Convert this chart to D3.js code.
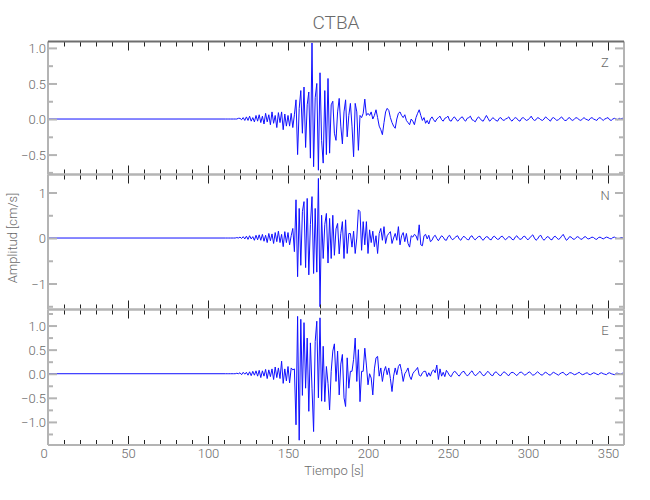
<!DOCTYPE html>
<html>
<head>
<meta charset="utf-8">
<script src="https://cdn.jsdelivr.net/npm/d3@7"></script>
<style>
  html, body { margin: 0; padding: 0; background: #fff; }
  text { font-family: Roboto, 'Liberation Sans', sans-serif; font-weight: 300; }
</style>
</head>
<body>
<svg id="chart" width="650" height="500"></svg>
<script>
// ---------------- DATA ----------------
const title = "CTBA";
const channels = ["Z", "N", "E"];
const xLabel = "Tiempo  [s]";
const yLabel = "Amplitud  [cm/s]";
const xTickLabels = [0, 50, 100, 150, 200, 250, 300, 350];
const xMinorTicks = [10,20,30,40,60,70,80,90,110,120,130,140,160,170,180,190,210,220,230,240,260,270,280,290,310,320,330,340];
const yMajorTicks = [[-0.5, 0, 0.5, 1], [-1, 0, 1], [-1, -0.5, 0, 0.5, 1]];
const yMinorTicks = [[-0.75, -0.25, 0.25, 0.75], [-1.5, -0.5, 0.5], [-1.25, -0.75, -0.25, 0.25, 0.75, 1.25]];
const yDomains = [[-0.78, 1.09], [-1.571, 1.396], [-1.479, 1.333]];

// quiet pre-event record (time 0 .. 110 s, amplitude 0)
const preEventTimes = [0, 110];
const preEventValues = [0, 0];
// sampled record: starts at 110 s, one sample per second, up to 360 s
const sampleStart = 110;
const sampleStep = 1;

const traceZ = [
  0,0,0,0,0,0,0,0,0,0.01,
  0.01,-0.01,0.02,-0.02,0.03,-0.02,0.04,-0.03,0.02,-0.04,
  0.05,-0.03,0.06,-0.05,0.04,-0.07,0.08,-0.04,0.06,-0.08,
  0.1,-0.06,0.05,-0.12,0.09,-0.05,0.1,-0.15,0.07,-0.1,
  0.05,-0.1,0.08,-0.12,0.06,0.27,-0.5,0.15,0.4,-0.2,
  0.45,-0.4,0.2,0.38,-0.55,1.07,-0.67,0.3,0.5,-0.72,
  0.65,-0.3,-0.62,0.4,-0.5,0.57,-0.48,0.2,0.25,-0.2,
  -0.3,0.1,0.29,-0.1,-0.35,0.1,0.27,-0.25,0.05,0.22,
  -0.1,-0.53,0.22,0.1,-0.44,0.05,0.02,0.08,0.28,0.05,
  0.08,0.05,0.1,0.0,0.05,0.13,0.02,-0.1,-0.15,-0.22,
  -0.05,0.1,0.15,0.12,0.02,-0.05,-0.1,-0.13,0.0,0.08,
  0.1,0.05,0.02,0.06,-0.02,-0.05,-0.08,0.0,-0.03,-0.08,
  0.02,0.08,0.13,0.05,-0.02,0.02,-0.06,-0.02,-0.07,0.0,
  0.03,-0.01,-0.04,0.0,0.02,0.04,-0.01,-0.03,0.01,0.02,
  0.04,-0.02,-0.03,0.01,0.03,0.0,-0.03,-0.01,0.02,0.03,
  -0.01,-0.03,0.01,0.02,0.04,-0.01,-0.02,-0.04,0.0,0.03,
  0.01,-0.02,-0.03,0.01,0.05,0.01,-0.03,-0.01,0.02,0.0,
  -0.02,-0.03,0.01,0.02,-0.01,-0.02,0.0,0.01,0.03,-0.01,
  -0.03,0.0,0.02,0.01,-0.02,-0.03,0.01,0.02,0.0,-0.02,
  -0.01,0.01,0.04,0.0,-0.02,-0.01,0.02,0.01,-0.01,-0.02,
  0.0,0.03,0.01,-0.01,-0.03,0.01,0.02,0.0,-0.02,-0.01,
  0.01,0.03,0.0,-0.02,-0.02,0.01,0.02,-0.01,-0.02,0.0,
  0.02,0.01,-0.01,-0.02,0.0,0.02,0.0,-0.01,-0.02,0.01,
  0.02,0.0,-0.01,-0.02,0.01,0.02,0.0,-0.02,0.0,0.01,
  0.02,-0.01,-0.02,0.0,0.01,0.0,-0.01,0.01,0.0,0.01,
  0.0
];

const traceN = [
  0,0,0,0,0,0,0,0,0.01,0,
  0.02,-0.01,0.03,-0.02,0.04,-0.03,0.05,-0.02,0.03,-0.05,
  0.06,-0.04,0.07,-0.05,0.08,-0.07,0.06,-0.1,0.1,-0.06,
  0.09,-0.12,0.12,-0.08,0.15,-0.1,0.08,-0.19,0.14,-0.1,
  0.12,-0.15,0.05,0.21,-0.3,0.84,-0.85,0.65,-0.6,0.58,
  0.8,-0.65,0.87,-0.81,0.3,0.91,-0.78,0.65,-0.75,1.31,
  -1.51,0.5,-0.45,0.3,0.54,-0.55,0.43,-0.45,0.5,-0.38,
  0.2,0.32,-0.35,0.1,0.36,-0.45,0.4,-0.34,0.1,0.1,
  -0.2,0.15,-0.34,0.0,0.62,0.58,-0.27,0.36,-0.15,0.36,
  -0.34,0.18,-0.1,0.15,-0.19,0.05,-0.34,0.1,0.21,-0.05,
  0.25,-0.12,0.05,0.1,0.14,-0.12,0.0,0.1,-0.05,0.25,
  -0.15,0.05,0.12,-0.08,0.1,-0.12,-0.2,0.05,0.02,0.08,
  0.05,-0.05,0.29,-0.15,-0.17,0.05,0.08,-0.02,0.06,-0.08,
  -0.05,0.03,0.06,-0.01,-0.06,0.0,0.05,0.02,-0.04,-0.05,
  0.03,0.06,-0.01,-0.04,0.0,0.03,0.05,-0.02,-0.05,0.01,
  0.04,0.0,-0.03,-0.04,0.03,0.05,-0.01,-0.04,0.0,0.03,
  0.04,-0.02,-0.05,0.0,0.03,0.02,-0.03,-0.04,0.02,0.04,
  0.0,-0.03,-0.02,0.03,0.04,-0.01,-0.04,0.0,0.03,0.02,
  -0.03,-0.04,0.02,0.05,0.0,-0.03,-0.02,0.03,0.04,-0.01,
  -0.04,0.0,0.04,0.07,0.0,-0.05,-0.02,0.04,0.06,-0.01,
  -0.05,-0.01,0.03,0.02,-0.03,-0.04,0.02,0.04,0.0,-0.03,
  -0.01,0.04,0.08,0.01,-0.05,-0.02,0.03,0.02,-0.02,-0.03,
  0.01,0.03,0.01,-0.03,-0.02,0.02,0.03,-0.01,-0.02,0.0,
  0.02,0.01,-0.02,-0.03,0.01,0.02,0.0,-0.02,0.0,0.02,
  0.01,-0.01,-0.02,0.01,0.02,0.0,-0.01,-0.01,0.01,0.01,
  0.0
];

const traceE = [
  0,0,0,0,0,0,0,0,0.01,0,
  0.02,-0.02,0.03,-0.01,0.03,-0.03,0.04,-0.04,0.05,-0.03,
  0.06,-0.05,0.07,-0.08,0.06,-0.05,0.09,-0.1,0.08,-0.06,
  0.1,-0.12,0.14,-0.08,0.12,-0.1,0.26,-0.2,0.1,-0.15,
  0.15,-0.19,0.12,0.08,0.1,-1.06,1.19,-1.38,1.13,-0.45,
  1.06,-0.3,0.74,-0.78,0.64,-0.3,-1.2,0.67,1.09,-0.5,
  1.16,-0.57,0.57,-0.58,0.15,-0.2,-0.75,0.05,0.47,0.62,
  -0.16,0.47,-0.44,0.2,0.4,-0.5,-0.68,0.33,-0.3,0.05,
  0.05,0.3,0.74,-0.16,0.5,-0.58,0.05,0.05,0.53,0.18,
  -0.23,0.0,-0.09,-0.44,0.1,0.33,0.36,-0.05,0.12,-0.16,
  0.05,0.15,-0.02,0.12,-0.1,-0.37,-0.05,0.12,-0.02,0.15,
  0.2,0.05,-0.16,0.0,0.05,0.12,-0.05,-0.12,0.0,0.05,
  0.08,0.13,-0.03,-0.05,0.02,0.05,0.05,-0.06,0.02,-0.05,
  0.05,0.08,0.02,0.18,-0.12,0.1,-0.05,0.03,-0.06,0.07,
  0.02,-0.04,-0.06,0.01,0.05,0.03,-0.02,-0.05,0.0,0.04,
  0.05,-0.01,-0.04,-0.02,0.03,0.06,0.0,-0.04,-0.02,0.02,
  0.05,0.0,-0.04,-0.03,0.02,0.05,0.01,-0.03,-0.04,0.02,
  0.04,0.01,-0.03,-0.04,0.01,0.04,0.02,-0.02,-0.04,0.01,
  0.03,0.02,-0.01,-0.04,0.0,0.03,0.03,0.0,-0.03,-0.01,
  0.02,0.04,0.0,-0.03,-0.02,0.01,0.04,0.01,-0.02,-0.03,
  0.01,0.03,0.01,-0.02,-0.03,0.01,0.03,0.01,-0.01,-0.03,
  0.0,0.02,0.03,-0.01,-0.03,-0.01,0.02,0.02,0.0,-0.02,
  -0.01,0.01,0.03,0.0,-0.02,-0.01,0.01,0.02,-0.01,-0.02,
  0.0,0.02,0.01,-0.01,-0.02,0.01,0.02,0.0,-0.01,-0.02,
  0.01,0.02,0.0,-0.01,-0.02,0.01,0.01,0.0,-0.01,0.01,
  0.0
];
const traces = [traceZ, traceN, traceE];

// ---------------- LAYOUT ----------------
const W = 650, H = 500;
const left = 48, right = 624;
const panelTop = [41.5, 174.5, 309.5];
const panelBottom = [174.5, 309.5, 445];
const axisGray = "#b4b4b4";
const textGray = "#6a6a6a";

const svg = d3.select("#chart");
svg.append("rect").attr("width", W).attr("height", H).attr("fill", "#fff");

const x = d3.scaleLinear().domain([0, 360]).range([left, right]);

function styleAxis(g, color, width) {
  g.select(".domain").remove();
  g.selectAll(".tick line").attr("stroke", color).attr("stroke-width", width);
  g.selectAll(".tick text").attr("fill", textGray).attr("font-size", 13);
}

channels.forEach((ch, i) => {
  const y = d3.scaleLinear().domain(yDomains[i]).range([panelBottom[i], panelTop[i]]);
  const g = svg.append("g");

  // trace
  const pts = preEventTimes.map((t, k) => [t, preEventValues[k]])
    .concat(traces[i].map((v, k) => [sampleStart + k * sampleStep, v]));
  g.append("path")
    .datum(pts)
    .attr("fill", "none")
    .attr("stroke", "#1010ff")
    .attr("stroke-width", 1)
    .attr("stroke-linejoin", "miter")
    .attr("stroke-miterlimit", 10)
    .attr("d", d3.line().x(d => x(d[0])).y(d => y(d[1])));

  // y axis left (major + minor), inward ticks
  const fmt = i === 1 ? (d => d3.format("d")(d).replace("-", "\u2212")) : (d => d3.format(".1f")(d).replace("-", "\u2212"));
  const yl = g.append("g").attr("transform", `translate(${left},0)`)
    .call(d3.axisLeft(y).tickValues(yMajorTicks[i]).tickSize(-9).tickPadding(3).tickFormat(fmt));
  styleAxis(yl, axisGray, 2);
  yl.selectAll(".tick text").attr("x", -2).attr("dy", "0.35em");
  const ylm = g.append("g").attr("transform", `translate(${left},0)`)
    .call(d3.axisLeft(y).tickValues(yMinorTicks[i]).tickSize(-5).tickFormat(""));
  styleAxis(ylm, axisGray, 2);

  // y axis right
  const yr = g.append("g").attr("transform", `translate(${right},0)`)
    .call(d3.axisRight(y).tickValues(yMajorTicks[i]).tickSize(-9).tickFormat(""));
  styleAxis(yr, axisGray, 2);
  const yrm = g.append("g").attr("transform", `translate(${right},0)`)
    .call(d3.axisRight(y).tickValues(yMinorTicks[i]).tickSize(-5).tickFormat(""));
  styleAxis(yrm, axisGray, 2);

  // x ticks: top (pointing down) and bottom (pointing up)
  const xt = g.append("g").attr("transform", `translate(0,${panelTop[i]})`)
    .call(d3.axisTop(x).tickValues(xTickLabels.filter(v => v > 0)).tickSize(-9).tickFormat(""));
  styleAxis(xt, "#222", 1);
  const xtm = g.append("g").attr("transform", `translate(0,${panelTop[i]})`)
    .call(d3.axisTop(x).tickValues(xMinorTicks).tickSize(-5).tickFormat(""));
  styleAxis(xtm, "#222", 1);
  const xb = g.append("g").attr("transform", `translate(0,${panelBottom[i]})`)
    .call(d3.axisBottom(x).tickValues(xTickLabels.filter(v => v > 0)).tickSize(-9)
      .tickFormat(i === 2 ? d3.format("d") : ""));
  styleAxis(xb, "#222", 1);
  if (i === 2) {
    xb.selectAll(".tick text").attr("y", 4).attr("dy", "0.71em");
  }
  const xbm = g.append("g").attr("transform", `translate(0,${panelBottom[i]})`)
    .call(d3.axisBottom(x).tickValues(xMinorTicks).tickSize(-5).tickFormat(""));
  styleAxis(xbm, "#222", 1);

  // frame
  g.append("line").attr("x1", left).attr("x2", left).attr("y1", panelTop[i]).attr("y2", panelBottom[i])
    .attr("stroke", axisGray).attr("stroke-width", 2);
  g.append("line").attr("x1", right).attr("x2", right).attr("y1", panelTop[i]).attr("y2", panelBottom[i])
    .attr("stroke", axisGray).attr("stroke-width", 2);
  g.append("line").attr("x1", left).attr("x2", right).attr("y1", panelTop[i]).attr("y2", panelTop[i])
    .attr("stroke", i === 0 ? "#6e6e6e" : axisGray).attr("stroke-width", 2);
  g.append("line").attr("x1", left).attr("x2", right).attr("y1", panelBottom[i]).attr("y2", panelBottom[i])
    .attr("stroke", axisGray).attr("stroke-width", 2);

  // channel label
  g.append("text").attr("x", right - 19).attr("y", panelTop[i] + 25)
    .attr("text-anchor", "middle").attr("fill", textGray).attr("font-size", 13).text(ch);
});

// x label "0" at the origin
svg.append("text").attr("x", x(0) - 4).attr("y", panelBottom[2] + 4).attr("dy", "0.71em")
  .attr("text-anchor", "middle").attr("fill", textGray).attr("font-size", 13).text(xTickLabels[0]);

// titles
svg.append("text").attr("x", (left + right) / 2).attr("y", 29)
  .attr("text-anchor", "middle").attr("fill", textGray).attr("font-size", 19).text(title);
svg.append("text").attr("x", (left + right) / 2 - 2).attr("y", 475)
  .attr("text-anchor", "middle").attr("fill", textGray).attr("font-size", 13).text(xLabel);
svg.append("text").attr("transform", "translate(17,238) rotate(-90)")
  .attr("text-anchor", "middle").attr("fill", textGray).attr("font-size", 13).text(yLabel);
</script>
</body>
</html>
